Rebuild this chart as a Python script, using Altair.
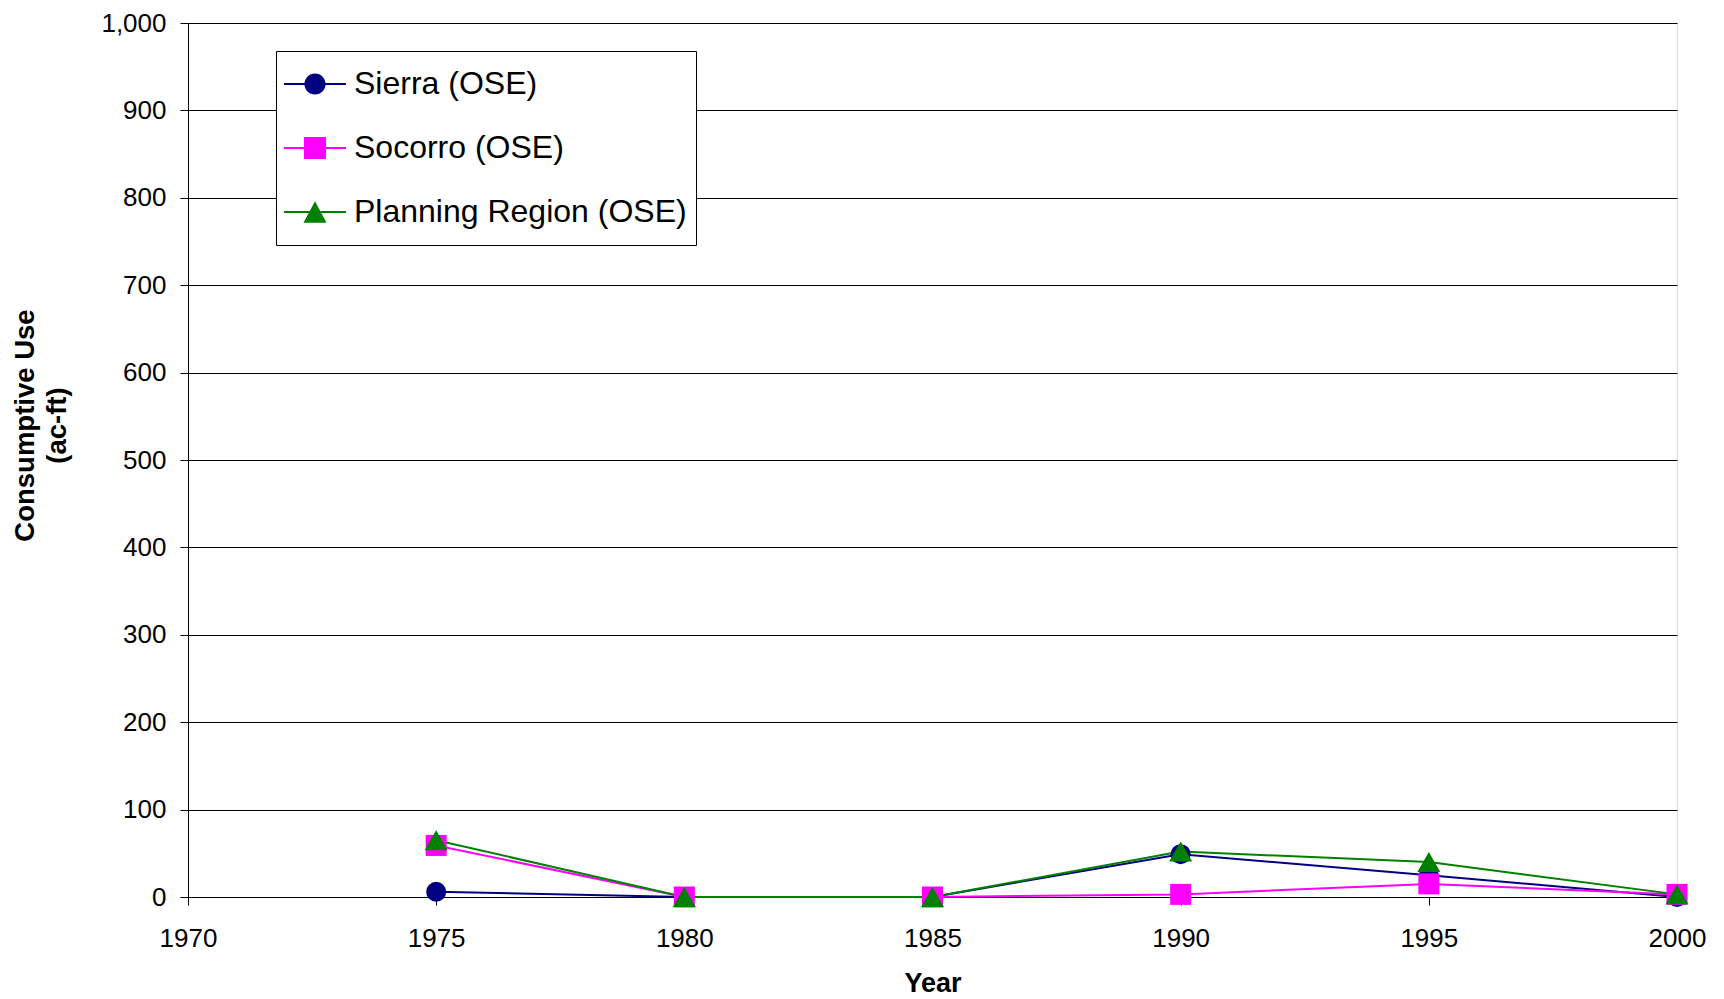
import altair as alt
import pandas as pd

years = [1975, 1980, 1985, 1990, 1995, 2000]
series_names = ["Sierra (OSE)", "Socorro (OSE)", "Planning Region (OSE)"]
sierra = [6, 0, 0, 49, 25, 0]
socorro = [59, 0, 0, 3, 15, 3]
planning = [65, 0, 0, 52, 40, 3]
x_ticks = [1970, 1975, 1980, 1985, 1990, 1995, 2000]
y_ticks = [0, 100, 200, 300, 400, 500, 600, 700, 800, 900, 1000]

colors = ["#000080", "#FF00FF", "#008000"]
shapes = ["circle", "square", "triangle-up"]
sizes = [400, 441, 529]

rows = []
for k, (name, vals) in enumerate(zip(series_names, [sierra, socorro, planning])):
    for yr, v in zip(years, vals):
        rows.append({"Year": yr, "Value": v, "Series": name, "k": k,
                     "Marker": shapes[k], "Msize": sizes[k]})
df = pd.DataFrame(rows)

FONT = "Liberation Sans"

x = alt.X("Year:Q",
          scale=alt.Scale(domain=[1970, 2000], nice=False, zero=False),
          axis=alt.Axis(values=x_ticks, format="d", title="Year", grid=False,
                        labelFontSize=26, labelFont=FONT, labelColor="black",
                        labelPadding=20, labelFlush=False, tickSize=8, tickColor="black",
                        domainColor="black", titleFont=FONT, titleFontSize=27,
                        titleFontWeight="bold", titleColor="black",
                        titleY=86, titleBaseline="middle"))
y = alt.Y("Value:Q",
          scale=alt.Scale(domain=[0, 1000], nice=False),
          axis=alt.Axis(values=y_ticks, format=",d", title=["Consumptive Use", "(ac-ft)"],
                        grid=True, gridColor="black", gridWidth=1,
                        labelFontSize=26, labelFont=FONT, labelColor="black",
                        labelPadding=14, labelFlush=False, tickSize=8, tickColor="black",
                        domainColor="black", titleFont=FONT, titleFontSize=27.5,
                        titleFontWeight="bold", titleColor="black",
                        titleAngle=270, titleX=-177, titleY=402,
                        titleAlign="center", titleBaseline="top", titleLineHeight=32))

# legend symbols: unit box = 48px; marker ~22px, line stub ~62px
pad = " M0,-1L0,-1Z M0,1L0,1Z"
bar = " M-1.29,-0.045H1.29V0.045H-1.29Z"
circ = "M-0.44,0A0.44,0.44,0,1,1,0.44,0A0.44,0.44,0,1,1,-0.44,0Z" + bar + pad
sq = "M-0.46,-0.46H0.46V0.46H-0.46Z" + bar + pad
tri = "M0,-0.45L0.48,0.45H-0.48Z" + bar + pad

legend = alt.Legend(
    title=None, orient="none", legendX=88, legendY=28,
    labelFontSize=32, labelFont=FONT, labelColor="black", labelLimit=0,
    fillColor="white", strokeColor="black", padding=9,
    symbolOffset=6, labelOffset=15, rowPadding=16, symbolSize=2304,
    symbolOpacity=1, symbolStrokeWidth=0,
)

color_scale = alt.Scale(domain=series_names, range=colors)
color = alt.Color("Series:N", scale=color_scale, legend=legend)

lines = alt.Chart(df).mark_line(strokeWidth=2).encode(x=x, y=y, color=color)
points = alt.Chart(df).mark_point(filled=True, opacity=1).encode(
    x=x, y=y, color=color,
    shape=alt.Shape("Marker:N", scale=None),
    size=alt.Size("Msize:Q", scale=None),
    order=alt.Order("k:Q"),
)
legend_layer = alt.Chart(df).mark_point(filled=True, opacity=1).encode(
    x=x, y=y, color=color,
    shape=alt.Shape("Series:N", scale=alt.Scale(domain=series_names, range=[circ, sq, tri]),
                    legend=legend),
).transform_filter("datum.Year < 0")

chart = alt.layer(lines, points, legend_layer).properties(
    width=1489, height=874,
    autosize=alt.AutoSizeParams(type="none"),
    padding={"left": 180, "top": 15, "right": 39, "bottom": 102},
).configure_view(stroke="#808080", strokeWidth=1).configure(background="white")

chart.save("out.html", embed_options={"renderer": "svg", "actions": False})
